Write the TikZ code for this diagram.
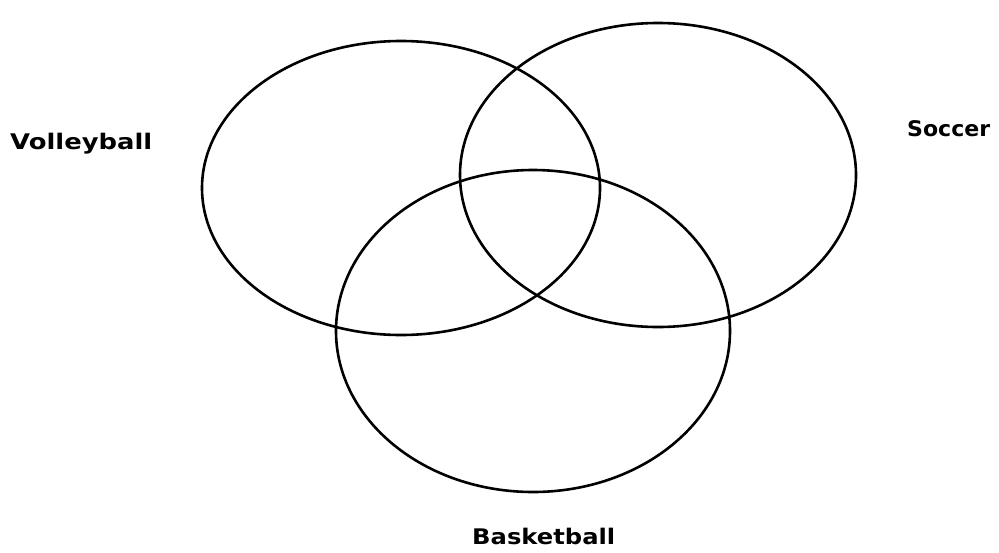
\documentclass[tikz,border=0pt]{standalone}
\usepackage{fontspec}
\usepackage{graphicx}
\setmainfont{DejaVu Sans}
\newcommand{\fitlab}[2]{\resizebox{#1}{\height}{#2}}
\begin{document}
\begin{tikzpicture}[x=1pt,y=-1pt,
  ring/.style={draw=black,line width=2.6pt},
  lab/.style={font=\fontsize{21.5}{24}\selectfont\bfseries,inner sep=0pt,anchor=base west}]
\useasboundingbox (0,0) rectangle (999,552);
\draw[ring] (401,188) ellipse [x radius=199, y radius=147];
\draw[ring] (658,175) ellipse [x radius=198, y radius=152];
\draw[ring] (533,331) ellipse [x radius=197, y radius=161];
\node[lab] (volley) at (10,149) {\fitlab{142pt}{Volleyball}};
\node[lab] (soccer) at (907,136) {\fitlab{83pt}{Soccer}};
\node[lab] (basket) at (472,544) {\fitlab{143pt}{Basketball}};
\end{tikzpicture}
\end{document}
